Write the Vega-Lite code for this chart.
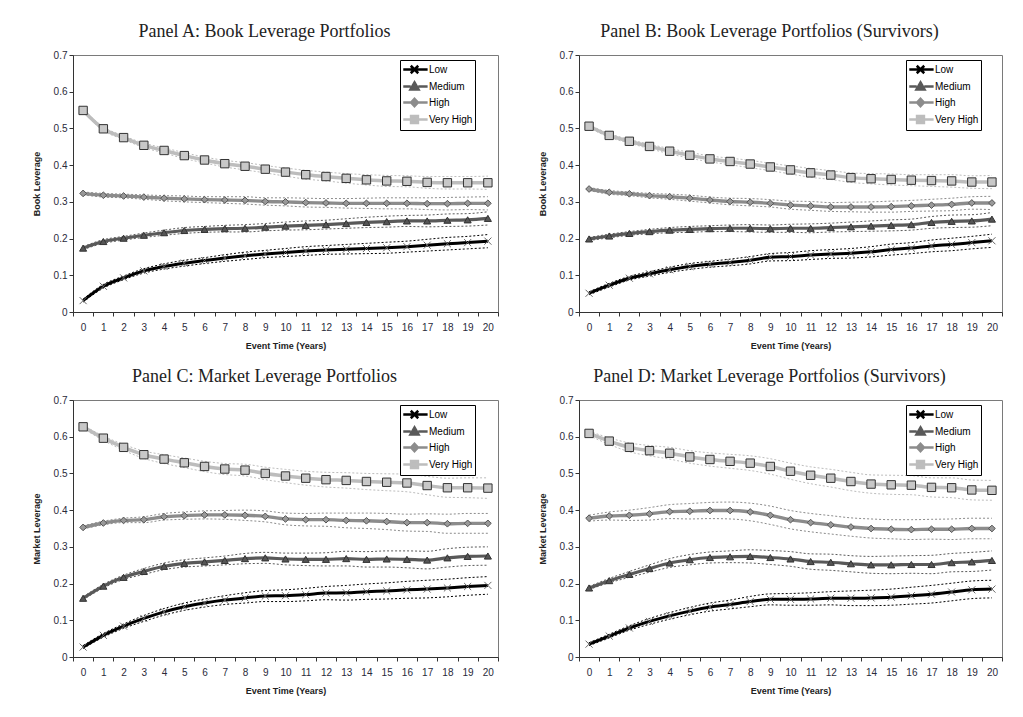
{
"$schema": "https://vega.github.io/schema/vega-lite/v6.json",
"padding": {"left": 31, "top": 22, "right": 5, "bottom": 5},
"background": "white",
"config": {
  "font": "Liberation Sans",
  "view": {"stroke": "#7a7a7a", "strokeWidth": 1},
  "axis": {"labelFont": "Liberation Sans", "labelFontSize": 10, "labelColor": "#2a2a3a", "titleFont": "Liberation Sans", "titleFontSize": 9, "titleFontWeight": "bold", "titleColor": "#222", "domainColor": "#333", "tickColor": "#333", "tickSize": 4, "grid": false, "labelFlush": false, "labelOverlap": false},
  "title": {"font": "Liberation Serif", "fontSize": 18, "fontWeight": "normal", "color": "#222", "anchor": "middle", "frame": "group", "dx": -21, "offset": 9},
  "legend": {"title": null, "orient": "none", "legendX": 327, "legendY": 5, "fillColor": "white", "strokeColor": "#000", "padding": 2, "rowPadding": -4.5, "labelFontSize": 10, "labelFont": "Liberation Sans", "labelColor": "#000", "symbolSize": 156, "labelOffset": 12, "symbolStrokeWidth": 2.5}
},
"data": {"values": [
{"p":"A","s":"Low","t":0,"v":0.031,"e":0.004},{"p":"A","s":"Low","t":1,"v":0.070,"e":0.005},{"p":"A","s":"Low","t":2,"v":0.093,"e":0.005},{"p":"A","s":"Low","t":3,"v":0.112,"e":0.006},{"p":"A","s":"Low","t":4,"v":0.124,"e":0.007},{"p":"A","s":"Low","t":5,"v":0.133,"e":0.008},{"p":"A","s":"Low","t":6,"v":0.140,"e":0.008},{"p":"A","s":"Low","t":7,"v":0.147,"e":0.009},{"p":"A","s":"Low","t":8,"v":0.153,"e":0.010},{"p":"A","s":"Low","t":9,"v":0.158,"e":0.010},{"p":"A","s":"Low","t":10,"v":0.162,"e":0.011},{"p":"A","s":"Low","t":11,"v":0.166,"e":0.012},{"p":"A","s":"Low","t":12,"v":0.169,"e":0.012},{"p":"A","s":"Low","t":13,"v":0.171,"e":0.013},{"p":"A","s":"Low","t":14,"v":0.173,"e":0.014},{"p":"A","s":"Low","t":15,"v":0.175,"e":0.015},{"p":"A","s":"Low","t":16,"v":0.178,"e":0.015},{"p":"A","s":"Low","t":17,"v":0.182,"e":0.016},{"p":"A","s":"Low","t":18,"v":0.186,"e":0.017},{"p":"A","s":"Low","t":19,"v":0.189,"e":0.017},{"p":"A","s":"Low","t":20,"v":0.193,"e":0.018},
{"p":"A","s":"Medium","t":0,"v":0.174,"e":0.004},{"p":"A","s":"Medium","t":1,"v":0.192,"e":0.005},{"p":"A","s":"Medium","t":2,"v":0.201,"e":0.005},{"p":"A","s":"Medium","t":3,"v":0.209,"e":0.006},{"p":"A","s":"Medium","t":4,"v":0.216,"e":0.007},{"p":"A","s":"Medium","t":5,"v":0.222,"e":0.008},{"p":"A","s":"Medium","t":6,"v":0.225,"e":0.008},{"p":"A","s":"Medium","t":7,"v":0.227,"e":0.009},{"p":"A","s":"Medium","t":8,"v":0.228,"e":0.010},{"p":"A","s":"Medium","t":9,"v":0.231,"e":0.010},{"p":"A","s":"Medium","t":10,"v":0.234,"e":0.011},{"p":"A","s":"Medium","t":11,"v":0.236,"e":0.012},{"p":"A","s":"Medium","t":12,"v":0.238,"e":0.012},{"p":"A","s":"Medium","t":13,"v":0.241,"e":0.013},{"p":"A","s":"Medium","t":14,"v":0.244,"e":0.014},{"p":"A","s":"Medium","t":15,"v":0.246,"e":0.015},{"p":"A","s":"Medium","t":16,"v":0.248,"e":0.015},{"p":"A","s":"Medium","t":17,"v":0.248,"e":0.016},{"p":"A","s":"Medium","t":18,"v":0.250,"e":0.017},{"p":"A","s":"Medium","t":19,"v":0.251,"e":0.017},{"p":"A","s":"Medium","t":20,"v":0.255,"e":0.018},
{"p":"A","s":"High","t":0,"v":0.323,"e":0.004},{"p":"A","s":"High","t":1,"v":0.318,"e":0.005},{"p":"A","s":"High","t":2,"v":0.316,"e":0.005},{"p":"A","s":"High","t":3,"v":0.313,"e":0.006},{"p":"A","s":"High","t":4,"v":0.310,"e":0.007},{"p":"A","s":"High","t":5,"v":0.308,"e":0.008},{"p":"A","s":"High","t":6,"v":0.306,"e":0.008},{"p":"A","s":"High","t":7,"v":0.305,"e":0.009},{"p":"A","s":"High","t":8,"v":0.304,"e":0.010},{"p":"A","s":"High","t":9,"v":0.301,"e":0.010},{"p":"A","s":"High","t":10,"v":0.300,"e":0.011},{"p":"A","s":"High","t":11,"v":0.298,"e":0.012},{"p":"A","s":"High","t":12,"v":0.297,"e":0.012},{"p":"A","s":"High","t":13,"v":0.296,"e":0.013},{"p":"A","s":"High","t":14,"v":0.296,"e":0.014},{"p":"A","s":"High","t":15,"v":0.296,"e":0.015},{"p":"A","s":"High","t":16,"v":0.296,"e":0.015},{"p":"A","s":"High","t":17,"v":0.295,"e":0.016},{"p":"A","s":"High","t":18,"v":0.295,"e":0.017},{"p":"A","s":"High","t":19,"v":0.296,"e":0.017},{"p":"A","s":"High","t":20,"v":0.296,"e":0.018},
{"p":"A","s":"Very High","t":0,"v":0.549,"e":0.004},{"p":"A","s":"Very High","t":1,"v":0.499,"e":0.005},{"p":"A","s":"Very High","t":2,"v":0.475,"e":0.005},{"p":"A","s":"Very High","t":3,"v":0.454,"e":0.006},{"p":"A","s":"Very High","t":4,"v":0.440,"e":0.007},{"p":"A","s":"Very High","t":5,"v":0.426,"e":0.008},{"p":"A","s":"Very High","t":6,"v":0.414,"e":0.008},{"p":"A","s":"Very High","t":7,"v":0.404,"e":0.009},{"p":"A","s":"Very High","t":8,"v":0.397,"e":0.010},{"p":"A","s":"Very High","t":9,"v":0.389,"e":0.010},{"p":"A","s":"Very High","t":10,"v":0.381,"e":0.011},{"p":"A","s":"Very High","t":11,"v":0.374,"e":0.012},{"p":"A","s":"Very High","t":12,"v":0.369,"e":0.012},{"p":"A","s":"Very High","t":13,"v":0.364,"e":0.013},{"p":"A","s":"Very High","t":14,"v":0.360,"e":0.014},{"p":"A","s":"Very High","t":15,"v":0.357,"e":0.015},{"p":"A","s":"Very High","t":16,"v":0.356,"e":0.015},{"p":"A","s":"Very High","t":17,"v":0.353,"e":0.016},{"p":"A","s":"Very High","t":18,"v":0.352,"e":0.017},{"p":"A","s":"Very High","t":19,"v":0.352,"e":0.017},{"p":"A","s":"Very High","t":20,"v":0.352,"e":0.018},
{"p":"B","s":"Low","t":0,"v":0.051,"e":0.004},{"p":"B","s":"Low","t":1,"v":0.073,"e":0.005},{"p":"B","s":"Low","t":2,"v":0.092,"e":0.005},{"p":"B","s":"Low","t":3,"v":0.104,"e":0.006},{"p":"B","s":"Low","t":4,"v":0.115,"e":0.007},{"p":"B","s":"Low","t":5,"v":0.124,"e":0.008},{"p":"B","s":"Low","t":6,"v":0.130,"e":0.008},{"p":"B","s":"Low","t":7,"v":0.135,"e":0.009},{"p":"B","s":"Low","t":8,"v":0.141,"e":0.010},{"p":"B","s":"Low","t":9,"v":0.149,"e":0.010},{"p":"B","s":"Low","t":10,"v":0.151,"e":0.011},{"p":"B","s":"Low","t":11,"v":0.155,"e":0.012},{"p":"B","s":"Low","t":12,"v":0.158,"e":0.012},{"p":"B","s":"Low","t":13,"v":0.160,"e":0.013},{"p":"B","s":"Low","t":14,"v":0.164,"e":0.014},{"p":"B","s":"Low","t":15,"v":0.170,"e":0.015},{"p":"B","s":"Low","t":16,"v":0.174,"e":0.015},{"p":"B","s":"Low","t":17,"v":0.180,"e":0.016},{"p":"B","s":"Low","t":18,"v":0.184,"e":0.017},{"p":"B","s":"Low","t":19,"v":0.189,"e":0.017},{"p":"B","s":"Low","t":20,"v":0.194,"e":0.018},
{"p":"B","s":"Medium","t":0,"v":0.199,"e":0.004},{"p":"B","s":"Medium","t":1,"v":0.207,"e":0.005},{"p":"B","s":"Medium","t":2,"v":0.214,"e":0.005},{"p":"B","s":"Medium","t":3,"v":0.219,"e":0.006},{"p":"B","s":"Medium","t":4,"v":0.223,"e":0.007},{"p":"B","s":"Medium","t":5,"v":0.225,"e":0.008},{"p":"B","s":"Medium","t":6,"v":0.227,"e":0.008},{"p":"B","s":"Medium","t":7,"v":0.228,"e":0.009},{"p":"B","s":"Medium","t":8,"v":0.228,"e":0.010},{"p":"B","s":"Medium","t":9,"v":0.227,"e":0.010},{"p":"B","s":"Medium","t":10,"v":0.228,"e":0.011},{"p":"B","s":"Medium","t":11,"v":0.228,"e":0.012},{"p":"B","s":"Medium","t":12,"v":0.230,"e":0.012},{"p":"B","s":"Medium","t":13,"v":0.232,"e":0.013},{"p":"B","s":"Medium","t":14,"v":0.234,"e":0.014},{"p":"B","s":"Medium","t":15,"v":0.236,"e":0.015},{"p":"B","s":"Medium","t":16,"v":0.238,"e":0.015},{"p":"B","s":"Medium","t":17,"v":0.244,"e":0.016},{"p":"B","s":"Medium","t":18,"v":0.247,"e":0.017},{"p":"B","s":"Medium","t":19,"v":0.248,"e":0.017},{"p":"B","s":"Medium","t":20,"v":0.253,"e":0.018},
{"p":"B","s":"High","t":0,"v":0.335,"e":0.004},{"p":"B","s":"High","t":1,"v":0.326,"e":0.005},{"p":"B","s":"High","t":2,"v":0.322,"e":0.005},{"p":"B","s":"High","t":3,"v":0.317,"e":0.006},{"p":"B","s":"High","t":4,"v":0.314,"e":0.007},{"p":"B","s":"High","t":5,"v":0.310,"e":0.008},{"p":"B","s":"High","t":6,"v":0.305,"e":0.008},{"p":"B","s":"High","t":7,"v":0.301,"e":0.009},{"p":"B","s":"High","t":8,"v":0.299,"e":0.010},{"p":"B","s":"High","t":9,"v":0.296,"e":0.010},{"p":"B","s":"High","t":10,"v":0.291,"e":0.011},{"p":"B","s":"High","t":11,"v":0.289,"e":0.012},{"p":"B","s":"High","t":12,"v":0.286,"e":0.012},{"p":"B","s":"High","t":13,"v":0.286,"e":0.013},{"p":"B","s":"High","t":14,"v":0.286,"e":0.014},{"p":"B","s":"High","t":15,"v":0.287,"e":0.015},{"p":"B","s":"High","t":16,"v":0.289,"e":0.015},{"p":"B","s":"High","t":17,"v":0.291,"e":0.016},{"p":"B","s":"High","t":18,"v":0.293,"e":0.017},{"p":"B","s":"High","t":19,"v":0.297,"e":0.017},{"p":"B","s":"High","t":20,"v":0.297,"e":0.018},
{"p":"B","s":"Very High","t":0,"v":0.506,"e":0.004},{"p":"B","s":"Very High","t":1,"v":0.481,"e":0.005},{"p":"B","s":"Very High","t":2,"v":0.465,"e":0.005},{"p":"B","s":"Very High","t":3,"v":0.451,"e":0.006},{"p":"B","s":"Very High","t":4,"v":0.438,"e":0.007},{"p":"B","s":"Very High","t":5,"v":0.427,"e":0.008},{"p":"B","s":"Very High","t":6,"v":0.417,"e":0.008},{"p":"B","s":"Very High","t":7,"v":0.410,"e":0.009},{"p":"B","s":"Very High","t":8,"v":0.403,"e":0.010},{"p":"B","s":"Very High","t":9,"v":0.395,"e":0.010},{"p":"B","s":"Very High","t":10,"v":0.387,"e":0.011},{"p":"B","s":"Very High","t":11,"v":0.379,"e":0.012},{"p":"B","s":"Very High","t":12,"v":0.373,"e":0.012},{"p":"B","s":"Very High","t":13,"v":0.366,"e":0.013},{"p":"B","s":"Very High","t":14,"v":0.363,"e":0.014},{"p":"B","s":"Very High","t":15,"v":0.361,"e":0.015},{"p":"B","s":"Very High","t":16,"v":0.359,"e":0.015},{"p":"B","s":"Very High","t":17,"v":0.358,"e":0.016},{"p":"B","s":"Very High","t":18,"v":0.357,"e":0.017},{"p":"B","s":"Very High","t":19,"v":0.354,"e":0.017},{"p":"B","s":"Very High","t":20,"v":0.354,"e":0.018},
{"p":"C","s":"Low","t":0,"v":0.027,"e":0.004},{"p":"C","s":"Low","t":1,"v":0.059,"e":0.005},{"p":"C","s":"Low","t":2,"v":0.084,"e":0.006},{"p":"C","s":"Low","t":3,"v":0.105,"e":0.008},{"p":"C","s":"Low","t":4,"v":0.123,"e":0.009},{"p":"C","s":"Low","t":5,"v":0.137,"e":0.010},{"p":"C","s":"Low","t":6,"v":0.147,"e":0.011},{"p":"C","s":"Low","t":7,"v":0.155,"e":0.012},{"p":"C","s":"Low","t":8,"v":0.161,"e":0.014},{"p":"C","s":"Low","t":9,"v":0.166,"e":0.015},{"p":"C","s":"Low","t":10,"v":0.167,"e":0.016},{"p":"C","s":"Low","t":11,"v":0.170,"e":0.017},{"p":"C","s":"Low","t":12,"v":0.174,"e":0.018},{"p":"C","s":"Low","t":13,"v":0.175,"e":0.020},{"p":"C","s":"Low","t":14,"v":0.178,"e":0.021},{"p":"C","s":"Low","t":15,"v":0.180,"e":0.022},{"p":"C","s":"Low","t":16,"v":0.183,"e":0.023},{"p":"C","s":"Low","t":17,"v":0.185,"e":0.024},{"p":"C","s":"Low","t":18,"v":0.188,"e":0.024},{"p":"C","s":"Low","t":19,"v":0.192,"e":0.024},{"p":"C","s":"Low","t":20,"v":0.195,"e":0.024},
{"p":"C","s":"Medium","t":0,"v":0.160,"e":0.004},{"p":"C","s":"Medium","t":1,"v":0.193,"e":0.005},{"p":"C","s":"Medium","t":2,"v":0.217,"e":0.006},{"p":"C","s":"Medium","t":3,"v":0.233,"e":0.008},{"p":"C","s":"Medium","t":4,"v":0.247,"e":0.009},{"p":"C","s":"Medium","t":5,"v":0.255,"e":0.010},{"p":"C","s":"Medium","t":6,"v":0.259,"e":0.011},{"p":"C","s":"Medium","t":7,"v":0.263,"e":0.012},{"p":"C","s":"Medium","t":8,"v":0.268,"e":0.014},{"p":"C","s":"Medium","t":9,"v":0.270,"e":0.015},{"p":"C","s":"Medium","t":10,"v":0.267,"e":0.016},{"p":"C","s":"Medium","t":11,"v":0.266,"e":0.017},{"p":"C","s":"Medium","t":12,"v":0.266,"e":0.018},{"p":"C","s":"Medium","t":13,"v":0.268,"e":0.020},{"p":"C","s":"Medium","t":14,"v":0.266,"e":0.021},{"p":"C","s":"Medium","t":15,"v":0.267,"e":0.022},{"p":"C","s":"Medium","t":16,"v":0.266,"e":0.023},{"p":"C","s":"Medium","t":17,"v":0.264,"e":0.024},{"p":"C","s":"Medium","t":18,"v":0.270,"e":0.025},{"p":"C","s":"Medium","t":19,"v":0.274,"e":0.025},{"p":"C","s":"Medium","t":20,"v":0.275,"e":0.025},
{"p":"C","s":"High","t":0,"v":0.353,"e":0.004},{"p":"C","s":"High","t":1,"v":0.365,"e":0.005},{"p":"C","s":"High","t":2,"v":0.372,"e":0.006},{"p":"C","s":"High","t":3,"v":0.374,"e":0.008},{"p":"C","s":"High","t":4,"v":0.382,"e":0.009},{"p":"C","s":"High","t":5,"v":0.385,"e":0.010},{"p":"C","s":"High","t":6,"v":0.387,"e":0.011},{"p":"C","s":"High","t":7,"v":0.387,"e":0.012},{"p":"C","s":"High","t":8,"v":0.386,"e":0.014},{"p":"C","s":"High","t":9,"v":0.383,"e":0.015},{"p":"C","s":"High","t":10,"v":0.376,"e":0.016},{"p":"C","s":"High","t":11,"v":0.374,"e":0.017},{"p":"C","s":"High","t":12,"v":0.374,"e":0.018},{"p":"C","s":"High","t":13,"v":0.372,"e":0.020},{"p":"C","s":"High","t":14,"v":0.371,"e":0.021},{"p":"C","s":"High","t":15,"v":0.369,"e":0.022},{"p":"C","s":"High","t":16,"v":0.366,"e":0.023},{"p":"C","s":"High","t":17,"v":0.366,"e":0.024},{"p":"C","s":"High","t":18,"v":0.363,"e":0.026},{"p":"C","s":"High","t":19,"v":0.364,"e":0.027},{"p":"C","s":"High","t":20,"v":0.364,"e":0.027},
{"p":"C","s":"Very High","t":0,"v":0.627,"e":0.004},{"p":"C","s":"Very High","t":1,"v":0.596,"e":0.006},{"p":"C","s":"Very High","t":2,"v":0.571,"e":0.008},{"p":"C","s":"Very High","t":3,"v":0.551,"e":0.010},{"p":"C","s":"Very High","t":4,"v":0.539,"e":0.012},{"p":"C","s":"Very High","t":5,"v":0.529,"e":0.013},{"p":"C","s":"Very High","t":6,"v":0.519,"e":0.014},{"p":"C","s":"Very High","t":7,"v":0.512,"e":0.015},{"p":"C","s":"Very High","t":8,"v":0.509,"e":0.016},{"p":"C","s":"Very High","t":9,"v":0.500,"e":0.017},{"p":"C","s":"Very High","t":10,"v":0.493,"e":0.018},{"p":"C","s":"Very High","t":11,"v":0.487,"e":0.019},{"p":"C","s":"Very High","t":12,"v":0.483,"e":0.020},{"p":"C","s":"Very High","t":13,"v":0.481,"e":0.021},{"p":"C","s":"Very High","t":14,"v":0.478,"e":0.022},{"p":"C","s":"Very High","t":15,"v":0.476,"e":0.023},{"p":"C","s":"Very High","t":16,"v":0.474,"e":0.024},{"p":"C","s":"Very High","t":17,"v":0.467,"e":0.025},{"p":"C","s":"Very High","t":18,"v":0.461,"e":0.026},{"p":"C","s":"Very High","t":19,"v":0.461,"e":0.027},{"p":"C","s":"Very High","t":20,"v":0.460,"e":0.028},
{"p":"D","s":"Low","t":0,"v":0.035,"e":0.004},{"p":"D","s":"Low","t":1,"v":0.057,"e":0.005},{"p":"D","s":"Low","t":2,"v":0.079,"e":0.006},{"p":"D","s":"Low","t":3,"v":0.097,"e":0.008},{"p":"D","s":"Low","t":4,"v":0.112,"e":0.009},{"p":"D","s":"Low","t":5,"v":0.125,"e":0.010},{"p":"D","s":"Low","t":6,"v":0.136,"e":0.011},{"p":"D","s":"Low","t":7,"v":0.143,"e":0.012},{"p":"D","s":"Low","t":8,"v":0.151,"e":0.014},{"p":"D","s":"Low","t":9,"v":0.157,"e":0.015},{"p":"D","s":"Low","t":10,"v":0.157,"e":0.016},{"p":"D","s":"Low","t":11,"v":0.158,"e":0.017},{"p":"D","s":"Low","t":12,"v":0.160,"e":0.018},{"p":"D","s":"Low","t":13,"v":0.160,"e":0.020},{"p":"D","s":"Low","t":14,"v":0.161,"e":0.021},{"p":"D","s":"Low","t":15,"v":0.163,"e":0.022},{"p":"D","s":"Low","t":16,"v":0.167,"e":0.023},{"p":"D","s":"Low","t":17,"v":0.171,"e":0.024},{"p":"D","s":"Low","t":18,"v":0.177,"e":0.024},{"p":"D","s":"Low","t":19,"v":0.183,"e":0.024},{"p":"D","s":"Low","t":20,"v":0.185,"e":0.024},
{"p":"D","s":"Medium","t":0,"v":0.188,"e":0.004},{"p":"D","s":"Medium","t":1,"v":0.208,"e":0.006},{"p":"D","s":"Medium","t":2,"v":0.225,"e":0.008},{"p":"D","s":"Medium","t":3,"v":0.241,"e":0.010},{"p":"D","s":"Medium","t":4,"v":0.256,"e":0.012},{"p":"D","s":"Medium","t":5,"v":0.265,"e":0.014},{"p":"D","s":"Medium","t":6,"v":0.271,"e":0.015},{"p":"D","s":"Medium","t":7,"v":0.273,"e":0.016},{"p":"D","s":"Medium","t":8,"v":0.274,"e":0.018},{"p":"D","s":"Medium","t":9,"v":0.271,"e":0.019},{"p":"D","s":"Medium","t":10,"v":0.267,"e":0.020},{"p":"D","s":"Medium","t":11,"v":0.260,"e":0.021},{"p":"D","s":"Medium","t":12,"v":0.258,"e":0.022},{"p":"D","s":"Medium","t":13,"v":0.254,"e":0.022},{"p":"D","s":"Medium","t":14,"v":0.251,"e":0.023},{"p":"D","s":"Medium","t":15,"v":0.251,"e":0.024},{"p":"D","s":"Medium","t":16,"v":0.252,"e":0.024},{"p":"D","s":"Medium","t":17,"v":0.252,"e":0.025},{"p":"D","s":"Medium","t":18,"v":0.257,"e":0.025},{"p":"D","s":"Medium","t":19,"v":0.259,"e":0.026},{"p":"D","s":"Medium","t":20,"v":0.263,"e":0.026},
{"p":"D","s":"High","t":0,"v":0.378,"e":0.008},{"p":"D","s":"High","t":1,"v":0.384,"e":0.011},{"p":"D","s":"High","t":2,"v":0.386,"e":0.014},{"p":"D","s":"High","t":3,"v":0.390,"e":0.017},{"p":"D","s":"High","t":4,"v":0.396,"e":0.019},{"p":"D","s":"High","t":5,"v":0.397,"e":0.021},{"p":"D","s":"High","t":6,"v":0.399,"e":0.022},{"p":"D","s":"High","t":7,"v":0.399,"e":0.023},{"p":"D","s":"High","t":8,"v":0.395,"e":0.024},{"p":"D","s":"High","t":9,"v":0.386,"e":0.025},{"p":"D","s":"High","t":10,"v":0.374,"e":0.025},{"p":"D","s":"High","t":11,"v":0.366,"e":0.025},{"p":"D","s":"High","t":12,"v":0.360,"e":0.025},{"p":"D","s":"High","t":13,"v":0.354,"e":0.025},{"p":"D","s":"High","t":14,"v":0.350,"e":0.026},{"p":"D","s":"High","t":15,"v":0.348,"e":0.026},{"p":"D","s":"High","t":16,"v":0.347,"e":0.027},{"p":"D","s":"High","t":17,"v":0.348,"e":0.027},{"p":"D","s":"High","t":18,"v":0.348,"e":0.028},{"p":"D","s":"High","t":19,"v":0.350,"e":0.028},{"p":"D","s":"High","t":20,"v":0.350,"e":0.028},
{"p":"D","s":"Very High","t":0,"v":0.609,"e":0.006},{"p":"D","s":"Very High","t":1,"v":0.588,"e":0.009},{"p":"D","s":"Very High","t":2,"v":0.571,"e":0.012},{"p":"D","s":"Very High","t":3,"v":0.562,"e":0.014},{"p":"D","s":"Very High","t":4,"v":0.555,"e":0.016},{"p":"D","s":"Very High","t":5,"v":0.545,"e":0.017},{"p":"D","s":"Very High","t":6,"v":0.538,"e":0.018},{"p":"D","s":"Very High","t":7,"v":0.533,"e":0.019},{"p":"D","s":"Very High","t":8,"v":0.528,"e":0.020},{"p":"D","s":"Very High","t":9,"v":0.519,"e":0.021},{"p":"D","s":"Very High","t":10,"v":0.506,"e":0.022},{"p":"D","s":"Very High","t":11,"v":0.495,"e":0.023},{"p":"D","s":"Very High","t":12,"v":0.487,"e":0.024},{"p":"D","s":"Very High","t":13,"v":0.478,"e":0.025},{"p":"D","s":"Very High","t":14,"v":0.471,"e":0.025},{"p":"D","s":"Very High","t":15,"v":0.469,"e":0.026},{"p":"D","s":"Very High","t":16,"v":0.468,"e":0.026},{"p":"D","s":"Very High","t":17,"v":0.462,"e":0.026},{"p":"D","s":"Very High","t":18,"v":0.461,"e":0.027},{"p":"D","s":"Very High","t":19,"v":0.455,"e":0.027},{"p":"D","s":"Very High","t":20,"v":0.454,"e":0.027}
]},
"spacing": 16,
"resolve": {"scale": {"color": "independent"}, "legend": {"color": "independent"}},
"vconcat": [
 {"hconcat": [
  {"width": 425, "height": 257,
   "title": "Panel A: Book Leverage Portfolios",
   "transform": [{"filter": "datum.p === 'A'"}],
   "encoding": {
     "x": {"field": "t", "type": "quantitative", "scale": {"domain": [-0.5, 20.5], "nice": false, "zero": false},
           "axis": {"title": "Event Time (Years)", "values": [-0.5,0.5,1.5,2.5,3.5,4.5,5.5,6.5,7.5,8.5,9.5,10.5,11.5,12.5,13.5,14.5,15.5,16.5,17.5,18.5,19.5,20.5], "labelExpr": "datum.value < 20 ? '' + (datum.value + 0.5) : ''", "labelOffset": 10.1, "labelPadding": 6, "titlePadding": 9}},
     "y": {"field": "v", "type": "quantitative", "scale": {"domain": [0, 0.7], "nice": false},
           "axis": {"title": "Book Leverage", "values": [0,0.1,0.2,0.3,0.4,0.5,0.6,0.7], "format": ".1~f", "titlePadding": 12}},
     "color": {"field": "s", "type": "nominal", "scale": {"domain": ["Low","Medium","High","Very High"], "range": ["#000000","#595959","#8c8c8c","#bdbdbd"]},
       "legend": {"encode": {"symbols": {"update": {
           "shape": {"signal": "datum.value === 'Low' ? 'M-1,0H2.9M0.2,-0.6L1.4,0.6M0.2,0.6L1.4,-0.6' : datum.value === 'Medium' ? 'M-1,0H0.2M1.4,0H2.9M0.8,-0.65L1.45,0.5H0.15Z' : datum.value === 'High' ? 'M-1,0H0.25M1.35,0H2.9M0.8,-0.6L1.35,0L0.8,0.6L0.25,0Z' : 'M-1,0H0.25M1.35,0H2.9M0.25,-0.55H1.35V0.55H0.25Z'"},
           "fill": {"signal": "datum.value === 'Low' ? '#000' : datum.value === 'Medium' ? '#555' : datum.value === 'High' ? '#999' : '#d0d0d0'"},
           "stroke": {"signal": "datum.value === 'Low' ? '#000' : datum.value === 'Medium' ? '#595959' : datum.value === 'High' ? '#8c8c8c' : '#b0b0b0'"},
           "strokeWidth": {"value": 2.5}, "opacity": {"value": 1}}}}}}
   },
   "layer": [
     {"mark": {"type": "errorband", "interpolate": "monotone", "band": {"opacity": 0}, "borders": {"strokeDash": [2,2], "strokeWidth": 1}}, "encoding": {"yError": {"field": "e"}}},
     {"mark": {"type": "line", "interpolate": "monotone"}, "encoding": {"strokeWidth": {"field": "s", "type": "nominal", "scale": {"domain": ["Low","Medium","High","Very High"], "range": [3, 3.5, 3.5, 4]}, "legend": null}}},
     {"transform": [{"filter": "datum.s === 'Low'"}], "mark": {"type": "point", "shape": "M-1,-1L1,1M-1,1L1,-1", "size": 50, "filled": false, "strokeWidth": 1, "opacity": 1}, "encoding": {"color": {"value": "#666666"}}},
     {"transform": [{"filter": "datum.s === 'Medium'"}], "mark": {"type": "point", "shape": "triangle-up", "size": 50, "filled": true, "stroke": "#333333", "strokeWidth": 1, "opacity": 1}, "encoding": {"color": {"value": "#555555"}}},
     {"transform": [{"filter": "datum.s === 'High'"}], "mark": {"type": "point", "shape": "diamond", "size": 45, "filled": true, "stroke": "#555555", "strokeWidth": 1, "opacity": 1}, "encoding": {"color": {"value": "#999999"}}},
     {"transform": [{"filter": "datum.s === 'Very High'"}], "mark": {"type": "point", "shape": "square", "size": 70, "filled": true, "stroke": "#333333", "strokeWidth": 1, "opacity": 1}, "encoding": {"color": {"value": "#c8c8c8"}}}
   ]},
  {"width": 423, "height": 257,
   "title": "Panel B: Book Leverage Portfolios (Survivors)",
   "transform": [{"filter": "datum.p === 'B'"}],
   "encoding": {
     "x": {"field": "t", "type": "quantitative", "scale": {"domain": [-0.5, 20.5], "nice": false, "zero": false},
           "axis": {"title": "Event Time (Years)", "values": [-0.5,0.5,1.5,2.5,3.5,4.5,5.5,6.5,7.5,8.5,9.5,10.5,11.5,12.5,13.5,14.5,15.5,16.5,17.5,18.5,19.5,20.5], "labelExpr": "datum.value < 20 ? '' + (datum.value + 0.5) : ''", "labelOffset": 10.1, "labelPadding": 6, "titlePadding": 9}},
     "y": {"field": "v", "type": "quantitative", "scale": {"domain": [0, 0.7], "nice": false},
           "axis": {"title": "Book Leverage", "values": [0,0.1,0.2,0.3,0.4,0.5,0.6,0.7], "format": ".1~f", "titlePadding": 12}},
     "color": {"field": "s", "type": "nominal", "scale": {"domain": ["Low","Medium","High","Very High"], "range": ["#000000","#595959","#8c8c8c","#bdbdbd"]},
       "legend": {"encode": {"symbols": {"update": {
           "shape": {"signal": "datum.value === 'Low' ? 'M-1,0H2.9M0.2,-0.6L1.4,0.6M0.2,0.6L1.4,-0.6' : datum.value === 'Medium' ? 'M-1,0H0.2M1.4,0H2.9M0.8,-0.65L1.45,0.5H0.15Z' : datum.value === 'High' ? 'M-1,0H0.25M1.35,0H2.9M0.8,-0.6L1.35,0L0.8,0.6L0.25,0Z' : 'M-1,0H0.25M1.35,0H2.9M0.25,-0.55H1.35V0.55H0.25Z'"},
           "fill": {"signal": "datum.value === 'Low' ? '#000' : datum.value === 'Medium' ? '#555' : datum.value === 'High' ? '#999' : '#d0d0d0'"},
           "stroke": {"signal": "datum.value === 'Low' ? '#000' : datum.value === 'Medium' ? '#595959' : datum.value === 'High' ? '#8c8c8c' : '#b0b0b0'"},
           "strokeWidth": {"value": 2.5}, "opacity": {"value": 1}}}}}}
   },
   "layer": [
     {"mark": {"type": "errorband", "interpolate": "monotone", "band": {"opacity": 0}, "borders": {"strokeDash": [2,2], "strokeWidth": 1}}, "encoding": {"yError": {"field": "e"}}},
     {"mark": {"type": "line", "interpolate": "monotone"}, "encoding": {"strokeWidth": {"field": "s", "type": "nominal", "scale": {"domain": ["Low","Medium","High","Very High"], "range": [3, 3.5, 3.5, 4]}, "legend": null}}},
     {"transform": [{"filter": "datum.s === 'Low'"}], "mark": {"type": "point", "shape": "M-1,-1L1,1M-1,1L1,-1", "size": 50, "filled": false, "strokeWidth": 1, "opacity": 1}, "encoding": {"color": {"value": "#666666"}}},
     {"transform": [{"filter": "datum.s === 'Medium'"}], "mark": {"type": "point", "shape": "triangle-up", "size": 50, "filled": true, "stroke": "#333333", "strokeWidth": 1, "opacity": 1}, "encoding": {"color": {"value": "#555555"}}},
     {"transform": [{"filter": "datum.s === 'High'"}], "mark": {"type": "point", "shape": "diamond", "size": 45, "filled": true, "stroke": "#555555", "strokeWidth": 1, "opacity": 1}, "encoding": {"color": {"value": "#999999"}}},
     {"transform": [{"filter": "datum.s === 'Very High'"}], "mark": {"type": "point", "shape": "square", "size": 70, "filled": true, "stroke": "#333333", "strokeWidth": 1, "opacity": 1}, "encoding": {"color": {"value": "#c8c8c8"}}}
   ]}
 ], "spacing": 28, "resolve": {"scale": {"color": "independent"}, "legend": {"color": "independent"}}},
 {"hconcat": [
  {"width": 425, "height": 257,
   "title": "Panel C: Market Leverage Portfolios",
   "transform": [{"filter": "datum.p === 'C'"}],
   "encoding": {
     "x": {"field": "t", "type": "quantitative", "scale": {"domain": [-0.5, 20.5], "nice": false, "zero": false},
           "axis": {"title": "Event Time (Years)", "values": [-0.5,0.5,1.5,2.5,3.5,4.5,5.5,6.5,7.5,8.5,9.5,10.5,11.5,12.5,13.5,14.5,15.5,16.5,17.5,18.5,19.5,20.5], "labelExpr": "datum.value < 20 ? '' + (datum.value + 0.5) : ''", "labelOffset": 10.1, "labelPadding": 6, "titlePadding": 9}},
     "y": {"field": "v", "type": "quantitative", "scale": {"domain": [0, 0.7], "nice": false},
           "axis": {"title": "Market Leverage", "values": [0,0.1,0.2,0.3,0.4,0.5,0.6,0.7], "format": ".1~f", "titlePadding": 12}},
     "color": {"field": "s", "type": "nominal", "scale": {"domain": ["Low","Medium","High","Very High"], "range": ["#000000","#595959","#8c8c8c","#bdbdbd"]},
       "legend": {"encode": {"symbols": {"update": {
           "shape": {"signal": "datum.value === 'Low' ? 'M-1,0H2.9M0.2,-0.6L1.4,0.6M0.2,0.6L1.4,-0.6' : datum.value === 'Medium' ? 'M-1,0H0.2M1.4,0H2.9M0.8,-0.65L1.45,0.5H0.15Z' : datum.value === 'High' ? 'M-1,0H0.25M1.35,0H2.9M0.8,-0.6L1.35,0L0.8,0.6L0.25,0Z' : 'M-1,0H0.25M1.35,0H2.9M0.25,-0.55H1.35V0.55H0.25Z'"},
           "fill": {"signal": "datum.value === 'Low' ? '#000' : datum.value === 'Medium' ? '#555' : datum.value === 'High' ? '#999' : '#d0d0d0'"},
           "stroke": {"signal": "datum.value === 'Low' ? '#000' : datum.value === 'Medium' ? '#595959' : datum.value === 'High' ? '#8c8c8c' : '#b0b0b0'"},
           "strokeWidth": {"value": 2.5}, "opacity": {"value": 1}}}}}}
   },
   "layer": [
     {"mark": {"type": "errorband", "interpolate": "monotone", "band": {"opacity": 0}, "borders": {"strokeDash": [2,2], "strokeWidth": 1}}, "encoding": {"yError": {"field": "e"}}},
     {"mark": {"type": "line", "interpolate": "monotone"}, "encoding": {"strokeWidth": {"field": "s", "type": "nominal", "scale": {"domain": ["Low","Medium","High","Very High"], "range": [3, 3.5, 3.5, 4]}, "legend": null}}},
     {"transform": [{"filter": "datum.s === 'Low'"}], "mark": {"type": "point", "shape": "M-1,-1L1,1M-1,1L1,-1", "size": 50, "filled": false, "strokeWidth": 1, "opacity": 1}, "encoding": {"color": {"value": "#666666"}}},
     {"transform": [{"filter": "datum.s === 'Medium'"}], "mark": {"type": "point", "shape": "triangle-up", "size": 50, "filled": true, "stroke": "#333333", "strokeWidth": 1, "opacity": 1}, "encoding": {"color": {"value": "#555555"}}},
     {"transform": [{"filter": "datum.s === 'High'"}], "mark": {"type": "point", "shape": "diamond", "size": 45, "filled": true, "stroke": "#555555", "strokeWidth": 1, "opacity": 1}, "encoding": {"color": {"value": "#999999"}}},
     {"transform": [{"filter": "datum.s === 'Very High'"}], "mark": {"type": "point", "shape": "square", "size": 70, "filled": true, "stroke": "#333333", "strokeWidth": 1, "opacity": 1}, "encoding": {"color": {"value": "#c8c8c8"}}}
   ]},
  {"width": 423, "height": 257,
   "title": "Panel D: Market Leverage Portfolios (Survivors)",
   "transform": [{"filter": "datum.p === 'D'"}],
   "encoding": {
     "x": {"field": "t", "type": "quantitative", "scale": {"domain": [-0.5, 20.5], "nice": false, "zero": false},
           "axis": {"title": "Event Time (Years)", "values": [-0.5,0.5,1.5,2.5,3.5,4.5,5.5,6.5,7.5,8.5,9.5,10.5,11.5,12.5,13.5,14.5,15.5,16.5,17.5,18.5,19.5,20.5], "labelExpr": "datum.value < 20 ? '' + (datum.value + 0.5) : ''", "labelOffset": 10.1, "labelPadding": 6, "titlePadding": 9}},
     "y": {"field": "v", "type": "quantitative", "scale": {"domain": [0, 0.7], "nice": false},
           "axis": {"title": "Market Leverage", "values": [0,0.1,0.2,0.3,0.4,0.5,0.6,0.7], "format": ".1~f", "titlePadding": 12}},
     "color": {"field": "s", "type": "nominal", "scale": {"domain": ["Low","Medium","High","Very High"], "range": ["#000000","#595959","#8c8c8c","#bdbdbd"]},
       "legend": {"encode": {"symbols": {"update": {
           "shape": {"signal": "datum.value === 'Low' ? 'M-1,0H2.9M0.2,-0.6L1.4,0.6M0.2,0.6L1.4,-0.6' : datum.value === 'Medium' ? 'M-1,0H0.2M1.4,0H2.9M0.8,-0.65L1.45,0.5H0.15Z' : datum.value === 'High' ? 'M-1,0H0.25M1.35,0H2.9M0.8,-0.6L1.35,0L0.8,0.6L0.25,0Z' : 'M-1,0H0.25M1.35,0H2.9M0.25,-0.55H1.35V0.55H0.25Z'"},
           "fill": {"signal": "datum.value === 'Low' ? '#000' : datum.value === 'Medium' ? '#555' : datum.value === 'High' ? '#999' : '#d0d0d0'"},
           "stroke": {"signal": "datum.value === 'Low' ? '#000' : datum.value === 'Medium' ? '#595959' : datum.value === 'High' ? '#8c8c8c' : '#b0b0b0'"},
           "strokeWidth": {"value": 2.5}, "opacity": {"value": 1}}}}}}
   },
   "layer": [
     {"mark": {"type": "errorband", "interpolate": "monotone", "band": {"opacity": 0}, "borders": {"strokeDash": [2,2], "strokeWidth": 1}}, "encoding": {"yError": {"field": "e"}}},
     {"mark": {"type": "line", "interpolate": "monotone"}, "encoding": {"strokeWidth": {"field": "s", "type": "nominal", "scale": {"domain": ["Low","Medium","High","Very High"], "range": [3, 3.5, 3.5, 4]}, "legend": null}}},
     {"transform": [{"filter": "datum.s === 'Low'"}], "mark": {"type": "point", "shape": "M-1,-1L1,1M-1,1L1,-1", "size": 50, "filled": false, "strokeWidth": 1, "opacity": 1}, "encoding": {"color": {"value": "#666666"}}},
     {"transform": [{"filter": "datum.s === 'Medium'"}], "mark": {"type": "point", "shape": "triangle-up", "size": 50, "filled": true, "stroke": "#333333", "strokeWidth": 1, "opacity": 1}, "encoding": {"color": {"value": "#555555"}}},
     {"transform": [{"filter": "datum.s === 'High'"}], "mark": {"type": "point", "shape": "diamond", "size": 45, "filled": true, "stroke": "#555555", "strokeWidth": 1, "opacity": 1}, "encoding": {"color": {"value": "#999999"}}},
     {"transform": [{"filter": "datum.s === 'Very High'"}], "mark": {"type": "point", "shape": "square", "size": 70, "filled": true, "stroke": "#333333", "strokeWidth": 1, "opacity": 1}, "encoding": {"color": {"value": "#c8c8c8"}}}
   ]}
 ], "spacing": 28, "resolve": {"scale": {"color": "independent"}, "legend": {"color": "independent"}}}
]
}
